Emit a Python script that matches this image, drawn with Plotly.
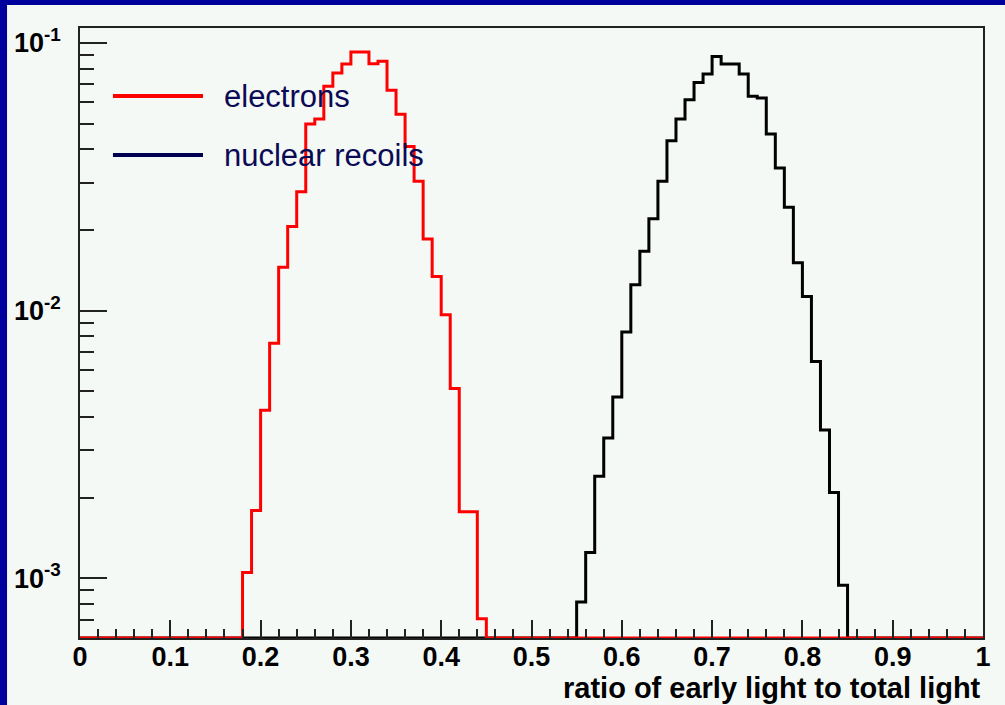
import plotly.graph_objects as go

# ---------------- data (fraction per bin, bin width 0.01) ----------------
electron_bin_lo = [0.18, 0.19, 0.20, 0.21, 0.22, 0.23, 0.24, 0.25, 0.26, 0.27,
                   0.28, 0.29, 0.30, 0.31, 0.32, 0.33, 0.34, 0.35, 0.36, 0.37,
                   0.38, 0.39, 0.40, 0.41, 0.42, 0.43, 0.44]
electron_vals = [1.05e-3, 1.79e-3, 4.24e-3, 7.55e-3, 0.0145, 0.0206, 0.0278, 0.0498,
                 0.0520, 0.0689, 0.0773, 0.0834, 0.0926, 0.0926, 0.0837, 0.0855,
                 0.0666, 0.0542, 0.0410, 0.0304, 0.0185, 0.0134, 9.65e-3, 5.11e-3,
                 1.77e-3, 1.77e-3, 7.05e-4]

nuclear_bin_lo = [0.55, 0.56, 0.57, 0.58, 0.59, 0.60, 0.61, 0.62, 0.63, 0.64,
                  0.65, 0.66, 0.67, 0.68, 0.69, 0.70, 0.71, 0.72, 0.73, 0.74,
                  0.75, 0.76, 0.77, 0.78, 0.79, 0.80, 0.81, 0.82, 0.83, 0.84]
nuclear_vals = [8.13e-4, 1.247e-3, 2.40e-3, 3.34e-3, 4.75e-3, 8.31e-3, 0.01248, 0.01666,
                0.02204, 0.0304, 0.0431, 0.0520, 0.0614, 0.0712, 0.0766, 0.0891,
                0.0834, 0.0834, 0.0766, 0.0632, 0.0623, 0.0457, 0.0341, 0.0243,
                0.0151, 0.01129, 6.45e-3, 3.58e-3, 2.09e-3, 9.40e-4]

bin_width = 0.01
n_bins = 100
x_tick_vals = [0, 0.1, 0.2, 0.3, 0.4, 0.5, 0.6, 0.7, 0.8, 0.9, 1]
x_tick_text = ["0", "0.1", "0.2", "0.3", "0.4", "0.5", "0.6", "0.7", "0.8", "0.9", "1"]
y_major = [1e-3, 1e-2, 1e-1]
y_major_text = ["10<sup>-3</sup>", "10<sup>-2</sup>", "10<sup>-1</sup>"]
y_minor = [7e-4, 8e-4, 9e-4, 2e-3, 3e-3, 4e-3, 5e-3, 6e-3, 7e-3, 8e-3, 9e-3,
           2e-2, 3e-2, 4e-2, 5e-2, 6e-2, 7e-2, 8e-2, 9e-2]
legend_labels = ["electrons", "nuclear recoils"]

x_range = [0, 1]
y_log_range = [-3.224, -0.944]
floor_val = 10 ** y_log_range[0]


def full_hist(lo, vals):
    lookup = {round(a / bin_width): v for a, v in zip(lo, vals)}
    xs, ys = [], []
    for i in range(n_bins):
        xs.append(i * bin_width)
        ys.append(lookup.get(i, floor_val))
    xs.append(n_bins * bin_width)
    ys.append(ys[-1])
    return xs, ys


NAVY = "#00009c"
PANEL = "#f5f9f6"
TEXT_NAVY = "#0a0a55"
FONT = "Liberation Sans, Arial, sans-serif"

fig = go.Figure()

xn, yn = full_hist(nuclear_bin_lo, nuclear_vals)
xe, ye = full_hist(electron_bin_lo, electron_vals)

fig.add_trace(go.Scatter(x=xn, y=yn, mode="lines", line=dict(color="black", width=3, shape="hv"),
                         showlegend=False, name=legend_labels[1]))
fig.add_trace(go.Scatter(x=xe, y=ye, mode="lines", line=dict(color="#ff0000", width=3, shape="hv"),
                         showlegend=False, name=legend_labels[0]))

# minor y ticks via overlay axis
fig.add_trace(go.Scatter(x=[None], y=[None], yaxis="y2", showlegend=False))

fig.update_layout(
    width=1005, height=705,
    margin=dict(l=80, r=22, t=28, b=67, autoexpand=False),
    paper_bgcolor=PANEL,
    plot_bgcolor=PANEL,
    font=dict(family=FONT, color="black"),
    xaxis=dict(
        range=x_range, tickvals=x_tick_vals, ticktext=x_tick_text, automargin=False,
        ticks="inside", ticklen=18, tickwidth=1.5, tickcolor="#222",
        minor=dict(dtick=0.02, ticks="inside", ticklen=9, tickwidth=1.5, tickcolor="#222"),
        showgrid=False, zeroline=False,
        showline=True, mirror=True, linecolor="#222", linewidth=1.5,
        tickfont=dict(size=27, family=FONT, weight="bold", color="black"),
        ticklabelstandoff=-6,
    ),
    yaxis=dict(
        type="log", range=y_log_range, tickvals=y_major, ticktext=y_major_text,
        automargin=False,
        ticks="inside", ticklen=27, tickwidth=1.5, tickcolor="#222",
        showgrid=False, zeroline=False,
        showline=True, mirror=True, linecolor="#222", linewidth=1.5,
        tickfont=dict(size=27, family=FONT, weight="bold", color="black"),
        ticklabelstandoff=12,
    ),
    yaxis2=dict(
        type="log", range=y_log_range, overlaying="y", side="left", anchor="x",
        tickvals=y_minor, showticklabels=False, automargin=False,
        ticks="inside", ticklen=14, tickwidth=1.5, tickcolor="#222",
        showgrid=False, zeroline=False, showline=False,
    ),
    showlegend=False,
)

# navy canvas border on the left and top edges
fig.add_shape(type="rect", xref="paper", yref="paper",
              x0=-0.12, x1=-0.0808, y0=-0.2, y1=1.1,
              fillcolor=NAVY, line=dict(width=0), layer="below")
fig.add_shape(type="rect", xref="paper", yref="paper",
              x0=-0.12, x1=1.1, y0=1.0377, y1=1.1,
              fillcolor=NAVY, line=dict(width=0), layer="below")

# manual legend
legend_colors = ["#ff0000", "#000050"]
legend_y = [0.8885, 0.7918]
for lab, col, ly in zip(legend_labels, legend_colors, legend_y):
    fig.add_shape(type="line", xref="paper", yref="paper",
                  x0=0.0365, x1=0.1362, y0=ly, y1=ly,
                  line=dict(color=col, width=4))
    fig.add_annotation(xref="paper", yref="paper", x=0.1570, y=ly,
                       xanchor="left", yanchor="middle", showarrow=False,
                       text=lab, font=dict(size=31, family=FONT, color=TEXT_NAVY))

# x axis title (right aligned, ROOT style)
fig.add_annotation(xref="paper", yref="paper", x=1.0, y=-0.082,
                   xanchor="right", yanchor="middle", showarrow=False,
                   text="ratio of early light to total light",
                   font=dict(size=29, family=FONT, weight="bold", color="black"))

# page without default body margin
fig.write_html("out.html", config={"displayModeBar": False},
               post_script="document.body.style.margin='0';document.body.style.background='%s';" % PANEL)
